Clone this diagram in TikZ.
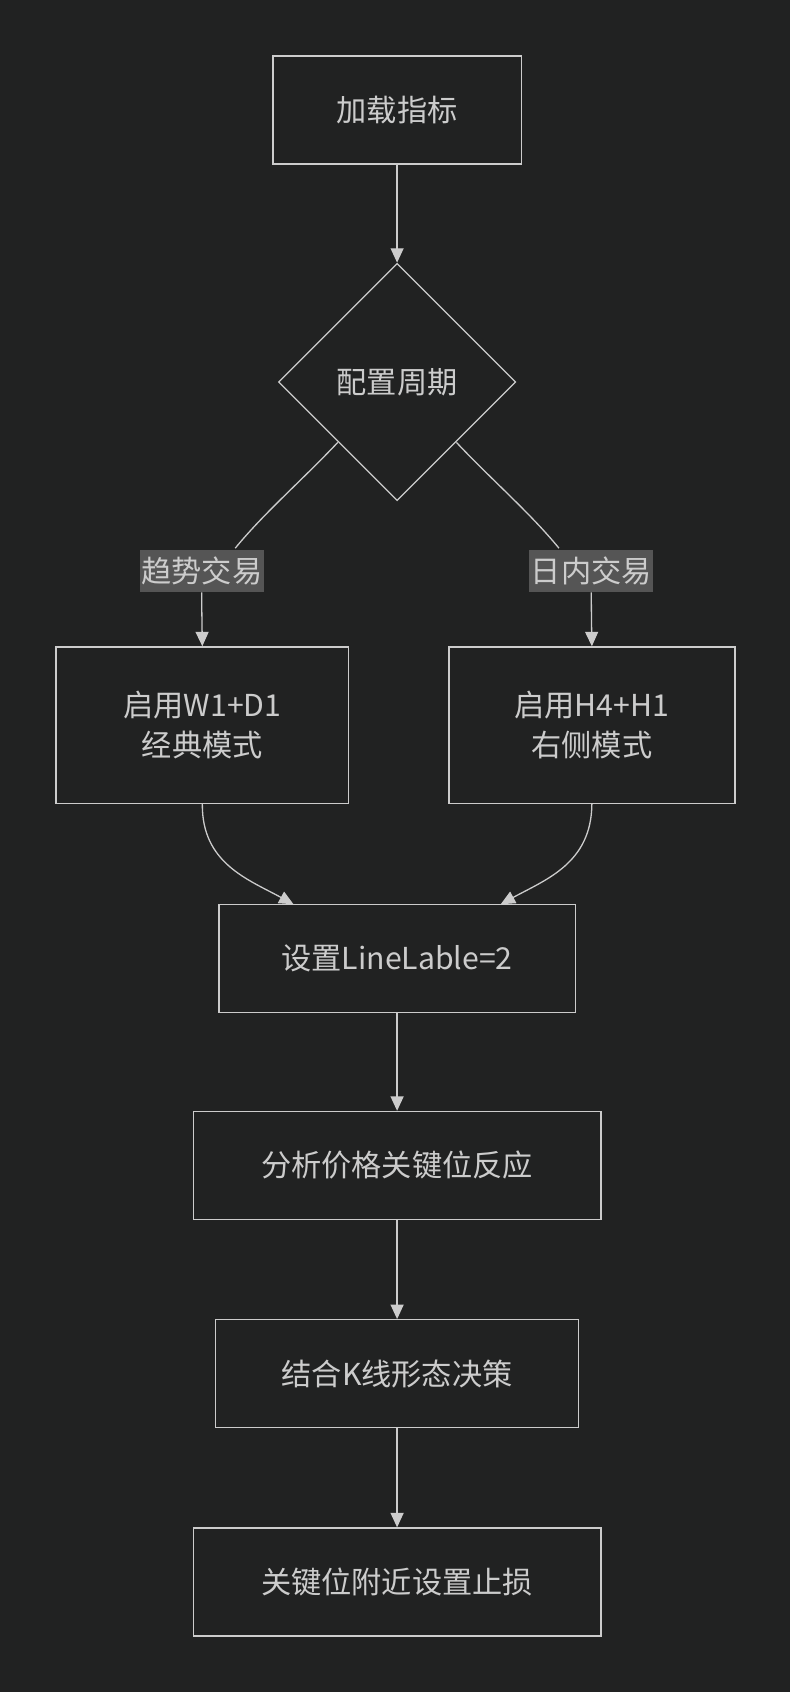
\documentclass[tikz,border=0pt]{standalone}
\usepackage{fontspec}
\newfontfamily\cjk{Noto Sans CJK SC}
\usetikzlibrary{shapes.geometric,arrows.meta}
\definecolor{bg}{HTML}{212222}
\definecolor{ln}{HTML}{CCCCCC}
\definecolor{lb}{HTML}{555555}
\begin{document}
\begin{tikzpicture}[x=0.75pt,y=-0.75pt,
  box/.style={draw=ln,fill=bg,text=ln,line width=0.9pt,font=\cjk\fontsize{21}{28}\selectfont,align=center,inner sep=0pt},
  lab/.style={fill=lb,text=ln,font=\cjk\fontsize{21}{25}\selectfont,inner xsep=1pt,inner ysep=5pt},
  ar/.style={draw=ln,line width=0.9pt,-{Triangle[length=10pt,width=9pt]}},
  ln/.style={draw=ln,line width=0.9pt}]
\fill[bg] (0,0) rectangle (732,1568);
\node[box,minimum width=230*0.75pt,minimum height=100*0.75pt] (a) at (368,102) {加载指标};
\node[box,diamond,minimum width=220*0.75pt,minimum height=220*0.75pt] (d) at (368,354) {配置周期};
\node[lab] (l1) at (187,529) {趋势交易};
\node[lab] (l2) at (548,529) {日内交易};
\node[box,minimum width=271*0.75pt,minimum height=145*0.75pt] (b1) at (187.5,672) {启用W1+D1\\经典模式};
\node[box,minimum width=265*0.75pt,minimum height=145*0.75pt] (b2) at (548.5,672) {启用H4+H1\\右侧模式};
\node[box,minimum width=330*0.75pt,minimum height=100*0.75pt] (c) at (368,888) {设置LineLable=2};
\node[box,minimum width=378*0.75pt,minimum height=100*0.75pt] (e) at (368,1080) {分析价格关键位反应};
\node[box,minimum width=336*0.75pt,minimum height=100*0.75pt] (f) at (368,1273) {结合K线形态决策};
\node[box,minimum width=378*0.75pt,minimum height=100*0.75pt] (g) at (368,1466) {关键位附近设置止损};
\coordinate (p1) at (218,508);
\coordinate (p2) at (518,508);
\draw[ar] (a) -- (d);
\draw[ln] (313,410) .. controls (280,445) and (245,475) .. (p1);
\draw[ln] (423,410) .. controls (456,445) and (491,475) .. (p2);
\draw[ar] (l1.south) .. controls (187,565) .. (b1.north);
\draw[ar] (l2.south) .. controls (548,565) .. (b2.north);
\draw[ar] (b1.south) .. controls (187,800) and (230,815) .. (272,838);
\draw[ar] (b2.south) .. controls (548,800) and (506,815) .. (464,838);
\draw[ar] (c) -- (e);
\draw[ar] (e) -- (f);
\draw[ar] (f) -- (g);
\end{tikzpicture}
\end{document}
